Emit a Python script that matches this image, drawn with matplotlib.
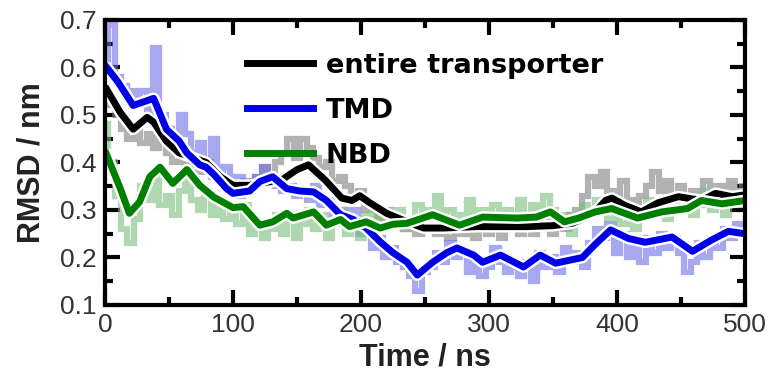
import numpy as np
import matplotlib
matplotlib.use("Agg")
import matplotlib.pyplot as plt
import matplotlib.patheffects as pe
from matplotlib.lines import Line2D
from matplotlib.ticker import MultipleLocator

# raw RMSD traces, one value every 5 ns
raw_step = 5
raw_entire = [0.55, 0.52, 0.50, 0.47, 0.45, 0.48, 0.44, 0.46, 0.43, 0.45,
              0.42, 0.40, 0.41, 0.39, 0.40, 0.38, 0.40, 0.37, 0.36, 0.35,
              0.35, 0.33, 0.36, 0.35, 0.37, 0.39, 0.36, 0.40, 0.42, 0.45,
              0.41, 0.45, 0.43, 0.41, 0.39, 0.40, 0.36, 0.37, 0.35, 0.33,
              0.34, 0.30, 0.31, 0.28, 0.30, 0.27, 0.28, 0.26, 0.27, 0.25,
              0.28, 0.26, 0.25, 0.27, 0.24, 0.26, 0.25, 0.27, 0.24, 0.26,
              0.25, 0.27, 0.24, 0.26, 0.27, 0.25, 0.28, 0.25, 0.26, 0.28,
              0.25, 0.27, 0.26, 0.29, 0.30, 0.33, 0.37, 0.35, 0.38, 0.34,
              0.33, 0.36, 0.32, 0.30, 0.33, 0.35, 0.38, 0.34, 0.36, 0.33,
              0.35, 0.31, 0.34, 0.33, 0.36, 0.34, 0.35, 0.33, 0.36, 0.34,
              0.35]
raw_tmd = [0.60, 0.69, 0.58, 0.56, 0.55, 0.53, 0.55, 0.50, 0.64, 0.50,
           0.47, 0.45, 0.50, 0.46, 0.42, 0.44, 0.40, 0.45, 0.38, 0.39,
           0.36, 0.37, 0.34, 0.35, 0.37, 0.39, 0.36, 0.35, 0.34, 0.35,
           0.33, 0.34, 0.32, 0.35, 0.31, 0.32, 0.29, 0.30, 0.27, 0.30,
           0.25, 0.26, 0.22, 0.24, 0.20, 0.22, 0.19, 0.18, 0.16, 0.13,
           0.17, 0.18, 0.21, 0.19, 0.23, 0.20, 0.21, 0.17, 0.19, 0.16,
           0.18, 0.22, 0.19, 0.17, 0.18, 0.16, 0.19, 0.15, 0.21, 0.18,
           0.20, 0.17, 0.22, 0.19, 0.21, 0.18, 0.23, 0.26, 0.24, 0.27,
           0.21, 0.25, 0.20, 0.23, 0.19, 0.24, 0.21, 0.25, 0.22, 0.24,
           0.21, 0.17, 0.19, 0.23, 0.20, 0.24, 0.22, 0.26, 0.24, 0.27,
           0.25]
raw_nbd = [0.48, 0.40, 0.33, 0.26, 0.23, 0.28, 0.35, 0.32, 0.37, 0.31,
           0.33, 0.29, 0.34, 0.38, 0.32, 0.30, 0.33, 0.29, 0.31, 0.28,
           0.30, 0.27, 0.31, 0.25, 0.27, 0.24, 0.26, 0.29, 0.25, 0.28,
           0.24, 0.27, 0.30, 0.26, 0.29, 0.24, 0.27, 0.30, 0.25, 0.28,
           0.24, 0.29, 0.31, 0.26, 0.29, 0.27, 0.30, 0.26, 0.28, 0.31,
           0.27, 0.30, 0.33, 0.28, 0.30, 0.26, 0.29, 0.32, 0.28, 0.30,
           0.27, 0.31, 0.28, 0.30, 0.27, 0.32, 0.29, 0.31, 0.28, 0.33,
           0.30, 0.27, 0.29, 0.25, 0.28, 0.31, 0.29, 0.32, 0.30, 0.28,
           0.31, 0.27, 0.29, 0.26, 0.30, 0.32, 0.29, 0.31, 0.28, 0.32,
           0.30, 0.33, 0.29, 0.31, 0.34, 0.30, 0.32, 0.29, 0.33, 0.31,
           0.32]

# running averages
t_entire = [0, 12, 22, 33, 38, 48, 58, 69, 79, 90, 100, 113, 125, 138, 150,
            159, 172, 185, 193, 199, 207, 220, 236, 249, 265, 290, 311, 330,
            350, 365, 381, 391, 396, 406, 419, 432, 448, 466, 477, 490, 500]
s_entire = [0.56, 0.505, 0.47, 0.495, 0.485, 0.445, 0.42, 0.41, 0.40, 0.37,
            0.352, 0.352, 0.358, 0.363, 0.385, 0.395, 0.363, 0.325, 0.32,
            0.33, 0.315, 0.293, 0.275, 0.262, 0.262, 0.265, 0.265, 0.265,
            0.267, 0.272, 0.29, 0.32, 0.325, 0.31, 0.296, 0.315, 0.328,
            0.32, 0.335, 0.328, 0.332]
t_tmd = [0, 10, 22, 38, 48, 58, 64, 74, 79, 85, 95, 100, 113, 121, 131, 142,
         152, 163, 173, 184, 194, 204, 215, 225, 236, 244, 256, 267, 275,
         288, 295, 309, 327, 340, 352, 373, 382, 395, 409, 422, 443, 459,
         474, 487, 500]
s_tmd = [0.605, 0.57, 0.52, 0.535, 0.47, 0.445, 0.42, 0.395, 0.39, 0.375,
         0.345, 0.335, 0.34, 0.36, 0.37, 0.345, 0.34, 0.338, 0.32, 0.29,
         0.28, 0.262, 0.233, 0.21, 0.19, 0.163, 0.19, 0.21, 0.22, 0.205,
         0.19, 0.205, 0.18, 0.205, 0.188, 0.2, 0.225, 0.258, 0.24, 0.232,
         0.243, 0.213, 0.237, 0.255, 0.25]
t_nbd = [0, 12, 19, 27, 35, 43, 53, 64, 74, 85, 100, 108, 121, 131, 142, 147,
         163, 173, 184, 191, 204, 215, 225, 236, 256, 277, 295, 322, 337,
         348, 359, 370, 383, 396, 416, 435, 455, 466, 482, 500]
s_nbd = [0.425, 0.345, 0.293, 0.317, 0.37, 0.39, 0.356, 0.385, 0.352, 0.327,
         0.305, 0.307, 0.268, 0.275, 0.293, 0.283, 0.296, 0.268, 0.28, 0.265,
         0.275, 0.262, 0.27, 0.272, 0.29, 0.268, 0.285, 0.283, 0.285, 0.296,
         0.275, 0.283, 0.296, 0.303, 0.283, 0.296, 0.303, 0.32, 0.313, 0.32]

labels = ["entire transporter", "TMD", "NBD"]
colors = ["black", "#0000e6", "#008000"]
raw_colors = ["#808080", "#6e6ee8", "#7cbf7c"]

fig = plt.figure(figsize=(7.72, 3.92), dpi=100)
ax = fig.add_axes([0.136, 0.222, 0.829, 0.727])

t_raw = np.arange(len(raw_entire)) * raw_step
for raw, c in zip([raw_entire, raw_tmd, raw_nbd], raw_colors):
    ax.plot(t_raw, raw, color=c, lw=4.5, alpha=0.6, drawstyle="steps-mid",
            solid_joinstyle="miter")

outline = [pe.Stroke(linewidth=8.5, foreground="white"), pe.Normal()]
for tt, ss, c in zip([t_entire, t_tmd, t_nbd], [s_entire, s_tmd, s_nbd], colors):
    ax.plot(tt, ss, color=c, lw=5, path_effects=outline, solid_capstyle="butt")

ax.set_xlim(0, 500)
ax.set_ylim(0.1, 0.7)
ax.xaxis.set_major_locator(MultipleLocator(100))
ax.xaxis.set_minor_locator(MultipleLocator(50))
ax.yaxis.set_major_locator(MultipleLocator(0.1))
ax.yaxis.set_minor_locator(MultipleLocator(0.05))
ax.tick_params(which="both", direction="in", top=True, right=True, width=3)
ax.tick_params(which="major", length=11, pad=6)
ax.tick_params(which="minor", length=6)
for sp in ax.spines.values():
    sp.set_linewidth(3)
for lab in ax.get_xticklabels() + ax.get_yticklabels():
    lab.set_fontfamily("Liberation Sans")
    lab.set_fontsize(19)
    lab.set_color("#333333")

ax.set_xlabel("Time / ns", fontfamily="Liberation Sans", fontweight="bold",
              fontsize=22, color="#222222", labelpad=4)
ax.set_ylabel("RMSD / nm", fontfamily="Liberation Sans", fontweight="bold",
              fontsize=22, color="#222222", labelpad=10)

handles = [Line2D([], [], color=c, lw=5) for c in colors]
ax.legend(handles, labels, loc="upper left", bbox_to_anchor=(0.222, 0.885),
          frameon=False, borderpad=0, borderaxespad=0, handlelength=2.45,
          handletextpad=0.45, labelspacing=0.7,
          prop={"family": "DejaVu Sans", "weight": "bold", "size": 19.5})

fig.savefig("out.png", dpi=100)
